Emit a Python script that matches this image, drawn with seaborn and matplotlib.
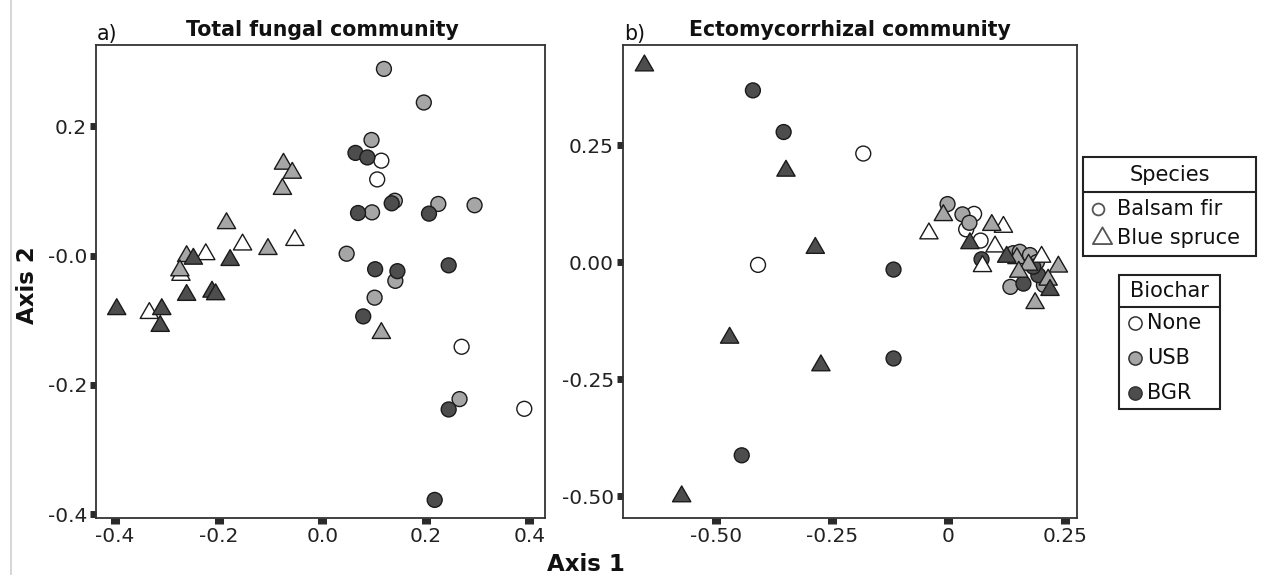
import numpy as np
import pandas as pd
import matplotlib
matplotlib.use("Agg")
import matplotlib.pyplot as plt
import seaborn as sns
from matplotlib.path import Path
from matplotlib.lines import Line2D
from matplotlib.patches import Rectangle

# ---------------- data ----------------
# Panel a: Total fungal community
a_fir_none_x = [0.114, 0.106, 0.269, 0.390]
a_fir_none_y = [0.147, 0.118, -0.141, -0.237]
a_fir_usb_x = [0.119, 0.196, 0.095, 0.140, 0.096, 0.224, 0.294, 0.047, 0.141, 0.101, 0.265]
a_fir_usb_y = [0.289, 0.237, 0.179, 0.085, 0.067, 0.080, 0.078, 0.003, -0.039, -0.065, -0.222]
a_fir_bgr_x = [0.064, 0.087, 0.134, 0.069, 0.206, 0.102, 0.145, 0.244, 0.079, 0.244, 0.217]
a_fir_bgr_y = [0.159, 0.152, 0.081, 0.066, 0.065, -0.021, -0.024, -0.015, -0.094, -0.238, -0.378]
a_spr_none_x = [-0.154, -0.053, -0.225, -0.273, -0.334]
a_spr_none_y = [0.017, 0.024, 0.002, -0.030, -0.089]
a_spr_usb_x = [-0.075, -0.058, -0.077, -0.185, -0.105, -0.262, -0.275, 0.114]
a_spr_usb_y = [0.142, 0.128, 0.103, 0.050, 0.010, -0.001, -0.023, -0.120]
a_spr_bgr_x = [-0.249, -0.178, -0.262, -0.213, -0.206, -0.397, -0.310, -0.313]
a_spr_bgr_y = [-0.005, -0.007, -0.061, -0.056, -0.060, -0.083, -0.083, -0.109]

# Panel b: Ectomycorrhizal community
b_fir_none_x = [-0.183, -0.409, 0.055, 0.038, 0.069]
b_fir_none_y = [0.232, -0.006, 0.103, 0.070, 0.046]
b_fir_usb_x = [-0.002, 0.030, 0.045, 0.139, 0.153, 0.175, 0.133, 0.205, 0.190]
b_fir_usb_y = [0.124, 0.102, 0.084, 0.019, 0.022, 0.015, -0.053, -0.049, 0.000]
b_fir_bgr_x = [-0.420, -0.354, -0.444, -0.118, -0.118, 0.071, 0.193, 0.161, 0.182]
b_fir_bgr_y = [0.367, 0.278, -0.413, -0.016, -0.206, 0.006, -0.028, -0.046, -0.010]
b_spr_none_x = [-0.042, 0.118, 0.100, 0.073, 0.200]
b_spr_none_y = [0.061, 0.075, 0.033, -0.009, 0.011]
b_spr_usb_x = [-0.011, 0.093, 0.147, 0.172, 0.236, 0.151, 0.214, 0.186]
b_spr_usb_y = [0.100, 0.079, 0.008, -0.006, -0.010, -0.021, -0.038, -0.088]
b_spr_bgr_x = [-0.653, -0.349, -0.286, -0.470, -0.274, -0.573, 0.046, 0.125, 0.218]
b_spr_bgr_y = [0.420, 0.195, 0.030, -0.162, -0.221, -0.501, 0.040, 0.011, -0.060]

species_levels = ["Balsam fir", "Blue spruce"]
biochar_levels = ["None", "USB", "BGR"]
biochar_colors = {"None": "#FFFFFF", "USB": "#A6A6A6", "BGR": "#4D4D4D"}

a_xticks = [-0.4, -0.2, 0.0, 0.2, 0.4]
a_xticklabels = ["-0.4", "-0.2", "0.0", "0.2", "0.4"]
a_yticks = [0.2, 0.0, -0.2, -0.4]
a_yticklabels = ["0.2", "-0.0", "-0.2", "-0.4"]
b_xticks = [-0.50, -0.25, 0.0, 0.25]
b_xticklabels = ["-0.50", "-0.25", "0", "0.25"]
b_yticks = [0.25, 0.0, -0.25, -0.50]
b_yticklabels = ["0.25", "0.00", "-0.25", "-0.50"]


def build(groups):
    rows = []
    for sp, bc, xs, ys in groups:
        for x, y in zip(xs, ys):
            rows.append({"x": x, "y": y, "Species": sp, "Biochar": bc})
    return pd.DataFrame(rows)


df_a = build([
    ("Balsam fir", "None", a_fir_none_x, a_fir_none_y),
    ("Balsam fir", "USB", a_fir_usb_x, a_fir_usb_y),
    ("Balsam fir", "BGR", a_fir_bgr_x, a_fir_bgr_y),
    ("Blue spruce", "None", a_spr_none_x, a_spr_none_y),
    ("Blue spruce", "USB", a_spr_usb_x, a_spr_usb_y),
    ("Blue spruce", "BGR", a_spr_bgr_x, a_spr_bgr_y),
])
df_b = build([
    ("Balsam fir", "None", b_fir_none_x, b_fir_none_y),
    ("Balsam fir", "USB", b_fir_usb_x, b_fir_usb_y),
    ("Balsam fir", "BGR", b_fir_bgr_x, b_fir_bgr_y),
    ("Blue spruce", "None", b_spr_none_x, b_spr_none_y),
    ("Blue spruce", "USB", b_spr_usb_x, b_spr_usb_y),
    ("Blue spruce", "BGR", b_spr_bgr_x, b_spr_bgr_y),
])

# ---------------- figure ----------------
sns.set_theme(style="white")
plt.rcParams["font.family"] = ["DejaVu Sans"]

W, H = 1262, 575
fig = plt.figure(figsize=(W / 100, H / 100), dpi=100)
fig.patch.set_facecolor("white")


def fx(x):
    return x / W


def fy(y):
    return 1 - y / H


ax1 = fig.add_axes([fx(96), fy(518), 449 / W, 473 / H])
ax2 = fig.add_axes([fx(623), fy(518), 454 / W, 473 / H])

tri = Path([(0, 0.577), (-0.5, -0.289), (0.5, -0.289), (0, 0.577)],
           [Path.MOVETO, Path.LINETO, Path.LINETO, Path.CLOSEPOLY])


def draw_panel(ax, df):
    for sp, mk, s, lw in [("Balsam fir", "o", 115, 1.0), ("Blue spruce", tri, 230, 1.0)]:
        sub = df[df["Species"] == sp]
        sns.scatterplot(data=sub, x="x", y="y", hue="Biochar", hue_order=biochar_levels,
                        palette=biochar_colors, marker=mk, s=s, edgecolor="#1a1a1a",
                        linewidth=lw, legend=False, ax=ax, zorder=3)


draw_panel(ax1, df_a)
draw_panel(ax2, df_b)

ax1.set_xlim(-0.437, 0.430)
ax1.set_ylim(-0.406, 0.326)
ax2.set_xlim(-0.699, 0.276)
ax2.set_ylim(-0.547, 0.464)

for ax, xt, xtl, yt, ytl in [(ax1, a_xticks, a_xticklabels, a_yticks, a_yticklabels),
                             (ax2, b_xticks, b_xticklabels, b_yticks, b_yticklabels)]:
    ax.set_xticks(xt)
    ax.set_xticklabels(xtl)
    ax.set_yticks(yt)
    ax.set_yticklabels(ytl)
    ax.set_xlabel("")
    ax.set_ylabel("")
    for sp in ax.spines.values():
        sp.set_color("#333333")
        sp.set_linewidth(1.3)
    ax.tick_params(axis="both", which="both", direction="out", color="#2a2a2a",
                   labelsize=14.5, labelcolor="#222222", pad=2)
    ax.tick_params(axis="x", length=4.5, width=6.5, bottom=True)
    ax.tick_params(axis="y", length=4.5, width=5.0, left=True)
    ax.set_facecolor("white")

# titles
fig.text(fx(97), fy(40), "a)", fontsize=14.8, ha="left", va="baseline", color="#111111")
fig.text(fx(322), fy(36), "Total fungal community", fontsize=14.8, fontweight="bold",
         ha="center", va="baseline", color="#111111")
fig.text(fx(624), fy(40), "b)", fontsize=14.8, ha="left", va="baseline", color="#111111")
fig.text(fx(850), fy(36), "Ectomycorrhizal community", fontsize=14.8, fontweight="bold",
         ha="center", va="baseline", color="#111111")

# axis titles
fig.text(fx(586), fy(571), "Axis 1", fontsize=16.5, fontweight="bold",
         ha="center", va="baseline", color="#111111")
fig.text(fx(28), fy(285), "Axis 2", fontsize=16.5, fontweight="bold",
         ha="center", va="center", rotation=90, color="#111111")

# ---------------- legends ----------------
def box(x0, y0, x1, y1, ysep):
    fig.add_artist(Rectangle((fx(x0), fy(y1)), (x1 - x0) / W, (y1 - y0) / H,
                             transform=fig.transFigure, fill=False,
                             ec="#222222", lw=1.5, zorder=5))
    fig.add_artist(Line2D([fx(x0), fx(x1)], [fy(ysep), fy(ysep)],
                          transform=fig.transFigure, color="#222222", lw=1.5, zorder=5))


def mark(x, y, marker, ms, fc, ec, lw):
    fig.add_artist(Line2D([fx(x)], [fy(y)], transform=fig.transFigure, marker=marker,
                          ms=ms, mfc=fc, mec=ec, mew=lw, ls="none", zorder=6))


box(1083, 157, 1256, 256, 192)
fig.text(fx(1169.5), fy(175), "Species", fontsize=15, ha="center", va="center", color="#111111")
species_markers = {"Balsam fir": ("o", 8.5, 1098), "Blue spruce": (tri, 16, 1102)}
for i, sp in enumerate(species_levels):
    yy = 209 + i * 29
    m, ms, mx = species_markers[sp]
    mark(mx, yy, m, ms, "white", "#555555", 1.3)
    fig.text(fx(1117), fy(yy), sp, fontsize=15, ha="left", va="center", color="#111111")

box(1119, 275, 1220, 409, 307)
fig.text(fx(1169.5), fy(291), "Biochar", fontsize=15, ha="center", va="center", color="#111111")
for i, bc in enumerate(biochar_levels):
    yy = 323 + i * 35
    mark(1135, yy, "o", 9.5, biochar_colors[bc], "#333333", 1.1)
    fig.text(fx(1147), fy(yy), bc, fontsize=15, ha="left", va="center", color="#111111")

# page edge line present in the reference image
fig.add_artist(Line2D([fx(11), fx(11)], [0, 1], transform=fig.transFigure,
                      color="#d0d0d0", lw=1.2))

fig.savefig("out.png", dpi=100, facecolor="white")
